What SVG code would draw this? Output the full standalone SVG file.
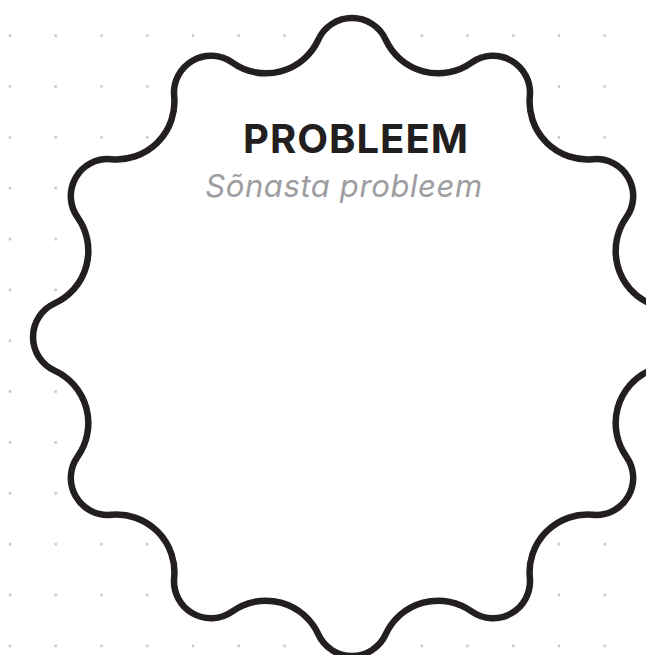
<svg xmlns="http://www.w3.org/2000/svg" width="646" height="655" viewBox="0 0 646 655">
  <style>
    .bg { fill: #ffffff; }
    .dot { fill: #c6c6c8; }
    .blob { fill: #ffffff; stroke: #231f20; stroke-width: 6.5; stroke-linejoin: round; }
    .title { font-family: Inter, "Liberation Sans", sans-serif; font-weight: 700; font-size: 40px; letter-spacing: 1px; fill: #231f20; }
    .sub { font-family: Inter, "Liberation Sans", sans-serif; font-style: italic; font-size: 31px; letter-spacing: 0.6px; fill: #9d9da2; }
  </style>
  <defs>
    <pattern id="grid" patternUnits="userSpaceOnUse" x="-12.875" y="10.275" width="45.75" height="50.85">
      <circle class="dot" cx="22.875" cy="25.425" r="1.4"/>
    </pattern>
  </defs>
  <rect class="bg" x="0" y="0" width="646" height="655"/>
  <rect x="0" y="0" width="646" height="655" fill="url(#grid)"/>
  <g id="connectors"/>
  <g id="problem">
    <path class="blob" d="M 318.36 39.62 A 37 37 0 0 1 385.64 39.62 A 57.7 57.7 0 0 0 471.56 62.64 A 37 37 0 0 1 529.83 96.28 A 57.7 57.7 0 0 0 592.72 159.18 A 37 37 0 0 1 626.36 217.44 A 57.7 57.7 0 0 0 649.38 303.36 A 37 37 0 0 1 649.38 370.64 A 57.7 57.7 0 0 0 626.36 456.56 A 37 37 0 0 1 592.72 514.83 A 57.7 57.7 0 0 0 529.83 577.72 A 37 37 0 0 1 471.56 611.36 A 57.7 57.7 0 0 0 385.64 634.38 A 37 37 0 0 1 318.36 634.38 A 57.7 57.7 0 0 0 232.44 611.36 A 37 37 0 0 1 174.17 577.72 A 57.7 57.7 0 0 0 111.28 514.83 A 37 37 0 0 1 77.64 456.56 A 57.7 57.7 0 0 0 54.62 370.64 A 37 37 0 0 1 54.62 303.36 A 57.7 57.7 0 0 0 77.64 217.44 A 37 37 0 0 1 111.28 159.18 A 57.7 57.7 0 0 0 174.17 96.28 A 37 37 0 0 1 232.44 62.64 A 57.7 57.7 0 0 0 318.36 39.62 Z"/>
    <text class="title" x="356" y="153" text-anchor="middle">PROBLEEM</text>
    <text class="sub" x="344" y="197" text-anchor="middle">Sõnasta probleem</text>
  </g>
</svg>
